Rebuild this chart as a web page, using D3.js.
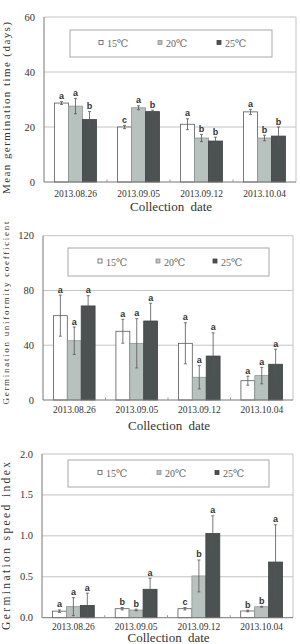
<!DOCTYPE html>
<html>
<head>
<meta charset="utf-8">
<script src="https://cdn.jsdelivr.net/npm/d3@7"></script>
<style>
  html, body { margin: 0; padding: 0; background: #fff; }
  svg { display: block; }
</style>
</head>
<body>
<svg id="chart" width="300" height="644"></svg>
<script>
// categories
const dates = ["2013.08.26", "2013.09.05", "2013.09.12", "2013.10.04"];
const temps = ["15℃", "20℃", "25℃"];

// Mean germination time (days)
const mgt15 = [28.7, 20.0, 21.0, 25.5];
const mgt20 = [27.6, 27.0, 16.0, 16.0];
const mgt25 = [22.7, 25.6, 14.9, 16.7];
const mgtErr15 = [0.5, 0.6, 2.0, 0.9];
const mgtErr20 = [2.8, 0.7, 1.3, 1.0];
const mgtErr25 = [2.9, 0.5, 1.4, 3.3];
const mgtSig15 = ["a", "c", "a", "a"];
const mgtSig20 = ["a", "a", "b", "b"];
const mgtSig25 = ["b", "b", "b", "b"];
const mgtTicks = [0, 20, 40, 60];

// Germination uniformity coefficient
const guc15 = [61.6, 50.2, 41.4, 14.1];
const guc20 = [43.3, 41.4, 16.6, 17.8];
const guc25 = [68.7, 57.7, 32.1, 26.1];
const gucErr15 = [15, 8.7, 15, 3.3];
const gucErr20 = [10, 18, 8.5, 6];
const gucErr25 = [7.5, 13, 17, 11];
const gucSig15 = ["a", "a", "a", "a"];
const gucSig20 = ["a", "a", "a", "a"];
const gucSig25 = ["a", "a", "a", "a"];
const gucTicks = [0, 40, 80, 120];

// Germination speed index
const gsi15 = [0.08, 0.11, 0.11, 0.082];
const gsi20 = [0.135, 0.094, 0.51, 0.134];
const gsi25 = [0.15, 0.347, 1.03, 0.68];
const gsiErr15 = [0.015, 0.015, 0.015, 0.01];
const gsiErr20 = [0.11, 0.01, 0.195, 0.005];
const gsiErr25 = [0.15, 0.135, 0.215, 0.455];
const gsiSig15 = ["a", "b", "c", "b"];
const gsiSig20 = ["a", "b", "b", "b"];
const gsiSig25 = ["a", "a", "a", "a"];
const gsiTicks = [0, 0.5, 1.0, 1.5, 2.0];

const fills = ["#ffffff", "#b7c1be", "#4b5251"];
const strokes = ["#5a5a5a", "#8e9794", "#3e4343"];
const serif = "'Liberation Serif', 'DejaVu Serif', serif";

const svg = d3.select("#chart");

function drawPanel(p) {
  const { means, errs, sigs, ticks, fmt, frame, legend, yTitle, xLabelY, xTitleY } = p;
  const g = svg.append("g");

  const x = d3.scaleBand().domain(dates).range([frame.left, frame.right]);
  const xi = d3.scaleBand().domain(temps).range([0, x.bandwidth()]).paddingOuter(0.75);
  const y = d3.scaleLinear().domain([0, ticks[ticks.length - 1]]).range([frame.bottom, frame.top]);

  // right border
  g.append("line")
    .attr("x1", frame.right).attr("x2", frame.right)
    .attr("y1", frame.top).attr("y2", frame.bottom)
    .attr("stroke", "#c4c4c4").attr("stroke-width", 1);

  // gridlines
  g.selectAll(".grid")
    .data(ticks.slice(1))
    .join("line")
    .attr("x1", frame.left).attr("x2", frame.right)
    .attr("y1", d => y(d)).attr("y2", d => y(d))
    .attr("stroke", "#c4c4c4").attr("stroke-width", 1);

  // legend
  const lg = g.append("g");
  lg.append("rect")
    .attr("x", legend.x).attr("y", legend.y)
    .attr("width", legend.w).attr("height", legend.h)
    .attr("fill", "#fff").attr("stroke", "#a8a8a8").attr("stroke-width", 1);
  temps.forEach((t, i) => {
    const lx = legend.x + legend.offsets[i];
    const cy = legend.y + legend.h / 2;
    lg.append("rect")
      .attr("x", lx).attr("y", cy - 3)
      .attr("width", 4).attr("height", 4)
      .attr("fill", fills[i]).attr("stroke", strokes[i]).attr("stroke-width", 0.8);
    lg.append("text")
      .attr("x", lx + 8).attr("y", cy + 3.5)
      .attr("font-family", serif).attr("font-size", 10)
      .attr("fill", "#666")
      .text(t);
  });

  // bars
  const rows = [];
  dates.forEach((d, di) => {
    temps.forEach((t, ti) => {
      rows.push({ date: d, temp: t, ti, v: means[ti][di], e: errs[ti][di], s: sigs[ti][di] });
    });
  });

  g.selectAll(".bar")
    .data(rows)
    .join("rect")
    .attr("x", d => x(d.date) + xi(d.temp))
    .attr("y", d => y(d.v))
    .attr("width", xi.bandwidth())
    .attr("height", d => y(0) - y(d.v))
    .attr("fill", d => fills[d.ti])
    .attr("stroke", d => strokes[d.ti])
    .attr("stroke-width", 0.8);

  // error bars
  const eb = g.selectAll(".err").data(rows).join("g")
    .attr("transform", d => `translate(${x(d.date) + xi(d.temp) + xi.bandwidth() / 2},0)`);
  eb.append("line")
    .attr("y1", d => y(d.v + d.e)).attr("y2", d => y(Math.max(0, d.v - d.e)))
    .attr("stroke", "#555").attr("stroke-width", 0.8);
  eb.append("line")
    .attr("x1", -1.5).attr("x2", 1.5)
    .attr("y1", d => y(d.v + d.e)).attr("y2", d => y(d.v + d.e))
    .attr("stroke", "#555").attr("stroke-width", 0.8);
  eb.append("line")
    .attr("x1", -1.5).attr("x2", 1.5)
    .attr("y1", d => y(Math.max(0, d.v - d.e))).attr("y2", d => y(Math.max(0, d.v - d.e)))
    .attr("stroke", "#555").attr("stroke-width", 0.8);
  eb.append("text")
    .attr("y", d => y(d.v + d.e) - 2.5)
    .attr("text-anchor", "middle")
    .attr("font-family", "'Liberation Sans', Arial, sans-serif")
    .attr("font-weight", "bold").attr("font-size", 9)
    .attr("fill", "#333")
    .text(d => d.s);

  // left and bottom axes
  g.append("line")
    .attr("x1", frame.left).attr("x2", frame.left)
    .attr("y1", frame.top).attr("y2", frame.bottom)
    .attr("stroke", "#777").attr("stroke-width", 1);
  g.append("line")
    .attr("x1", frame.left).attr("x2", frame.right)
    .attr("y1", frame.bottom).attr("y2", frame.bottom)
    .attr("stroke", "#777").attr("stroke-width", 1);

  // small ticks between groups
  g.selectAll(".xt")
    .data(dates.slice(1))
    .join("line")
    .attr("x1", d => x(d)).attr("x2", d => x(d))
    .attr("y1", frame.bottom).attr("y2", frame.bottom - 2.5)
    .attr("stroke", "#999").attr("stroke-width", 1);

  // y tick labels
  g.selectAll(".yl")
    .data(ticks)
    .join("text")
    .attr("x", frame.left - 9)
    .attr("y", d => y(d) + 3.5)
    .attr("text-anchor", "end")
    .attr("font-family", serif).attr("font-size", 10.5)
    .attr("fill", "#333")
    .text(d => fmt(d));

  // x tick labels
  g.selectAll(".xl")
    .data(dates)
    .join("text")
    .attr("x", d => x(d) + x.bandwidth() / 2)
    .attr("y", xLabelY)
    .attr("text-anchor", "middle")
    .attr("font-family", serif).attr("font-size", 9.5)
    .attr("fill", "#333")
    .text(d => d);

  // x title
  g.append("text")
    .attr("x", (frame.left + frame.right) / 2 + 1)
    .attr("y", xTitleY)
    .attr("text-anchor", "middle")
    .attr("font-family", serif).attr("font-size", 13)
    .attr("word-spacing", 3)
    .attr("fill", "#333")
    .text("Collection date");

  // y title
  g.append("text")
    .attr("transform", `translate(${yTitle.x},${yTitle.cy}) rotate(-90)`)
    .attr("text-anchor", "middle")
    .attr("font-family", serif).attr("font-size", yTitle.size)
    .attr("textLength", yTitle.len).attr("lengthAdjust", "spacing")
    .attr("fill", "#333")
    .text(yTitle.text);
}

drawPanel({
  means: [mgt15, mgt20, mgt25],
  errs: [mgtErr15, mgtErr20, mgtErr25],
  sigs: [mgtSig15, mgtSig20, mgtSig25],
  ticks: mgtTicks,
  fmt: d3.format("d"),
  frame: { left: 44, right: 296, top: 17, bottom: 182 },
  legend: { x: 70, y: 30, w: 202, h: 27, offsets: [29, 88, 147] },
  yTitle: { x: 10, cy: 108, size: 11, len: 172, text: "Mean germination time (days)" },
  xLabelY: 197,
  xTitleY: 211
});

drawPanel({
  means: [guc15, guc20, guc25],
  errs: [gucErr15, gucErr20, gucErr25],
  sigs: [gucSig15, gucSig20, gucSig25],
  ticks: gucTicks,
  fmt: d3.format("d"),
  frame: { left: 43, right: 293, top: 235.7, bottom: 400 },
  legend: { x: 68, y: 248, w: 201, h: 28, offsets: [30, 88, 145] },
  yTitle: { x: 8.5, cy: 313, size: 9, len: 183, text: "Germination uniformity coefficient" },
  xLabelY: 413,
  xTitleY: 430
});

drawPanel({
  means: [gsi15, gsi20, gsi25],
  errs: [gsiErr15, gsiErr20, gsiErr25],
  sigs: [gsiSig15, gsiSig20, gsiSig25],
  ticks: gsiTicks,
  fmt: d3.format(".1f"),
  frame: { left: 42, right: 293, top: 454, bottom: 617.7 },
  legend: { x: 68, y: 460, w: 201, h: 27, offsets: [30, 89, 147] },
  yTitle: { x: 10, cy: 546, size: 11.5, len: 168, text: "Germination speed index" },
  xLabelY: 629.5,
  xTitleY: 642
});
</script>
</body>
</html>
